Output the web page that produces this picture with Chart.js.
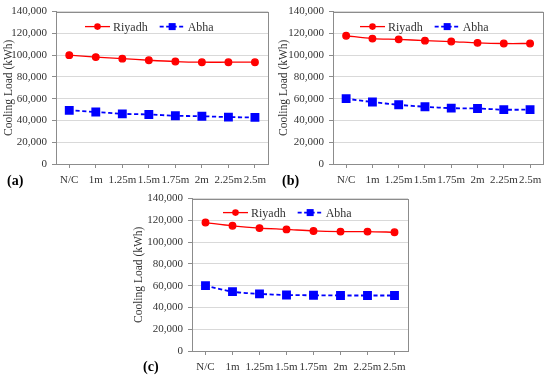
<!DOCTYPE html>
<html>
<head>
<meta charset="utf-8">
<script src="https://cdn.jsdelivr.net/npm/chart.js@4"></script>
<style>
  body { margin: 0; background: #fff; }
  #wrap { position: relative; width: 550px; height: 377px; }
  .panel { position: absolute; }
  .tag { position: absolute; font-family: "Liberation Serif", serif; font-weight: bold; font-size: 14px; color: #000; }
</style>
</head>
<body>
<div id="wrap">
  <div class="panel" style="left:0;top:0;width:275px;height:188px"><canvas id="chartA"></canvas></div>
  <div class="panel" style="left:275px;top:0;width:275px;height:188px"><canvas id="chartB"></canvas></div>
  <div class="panel" style="left:130px;top:187px;width:290px;height:190px"><canvas id="chartC"></canvas></div>
  <div class="tag" style="left:7px;top:173px">(a)</div>
  <div class="tag" style="left:282px;top:173px">(b)</div>
  <div class="tag" style="left:143px;top:359px">(c)</div>
</div>
<script>
// ===== data =====
const categories = ["N/C", "1m", "1.25m", "1.5m", "1.75m", "2m", "2.25m", "2.5m"];
const seriesNames = ["Riyadh", "Abha"];

const riyadhA = [100000, 98200, 96800, 95300, 94100, 93500, 93500, 93500];
const abhaA   = [49300, 47800, 46100, 45500, 44300, 43900, 43100, 42800];

const riyadhB = [117800, 115200, 114500, 113300, 112500, 111300, 110700, 110700];
const abhaB   = [60000, 56900, 54400, 52600, 51300, 51000, 49900, 49900];

const riyadhC = [118000, 115000, 112900, 111700, 110300, 109700, 109700, 109100];
const abhaC   = [60000, 54500, 52500, 51400, 51200, 51000, 51000, 51000];

const yMax = 140000;
const yStep = 20000;

const FONT = "Liberation Serif";
const TEXT = "#333";

// border around plot area
const borderPlugin = {
  id: "plotBorder",
  afterDraw(chart) {
    const a = chart.chartArea, ctx = chart.ctx;
    ctx.save();
    ctx.strokeStyle = "#8c8c8c";
    ctx.lineWidth = 1;
    ctx.strokeRect(Math.round(a.left) + 0.5, Math.round(a.top) + 0.5,
                   Math.round(a.right - a.left), Math.round(a.bottom - a.top));
    ctx.restore();
  }
};

// legend inside plot: line + marker + label
const innerLegend = {
  id: "innerLegend",
  afterDraw(chart, args, opts) {
    const a = chart.chartArea, ctx = chart.ctx;
    let x = a.left + opts.dx;
    const y = a.top + opts.dy;
    ctx.save();
    ctx.font = "12px " + FONT;
    ctx.textBaseline = "middle";
    chart.data.datasets.forEach(ds => {
      ctx.strokeStyle = ds.borderColor;
      ctx.lineWidth = ds.borderWidth;
      ctx.setLineDash(ds.borderDash || []);
      ctx.beginPath();
      ctx.moveTo(x, y);
      ctx.lineTo(x + 25, y);
      ctx.stroke();
      ctx.setLineDash([]);
      ctx.fillStyle = ds.pointBackgroundColor;
      if (ds.pointStyle === "rect") {
        ctx.fillRect(x + 12.5 - 3.5, y - 3.5, 7, 7);
      } else {
        ctx.beginPath();
        ctx.arc(x + 12.5, y, 3.3, 0, Math.PI * 2);
        ctx.fill();
      }
      ctx.fillStyle = TEXT;
      ctx.fillText(ds.label, x + 28, y + 1);
      x += 28 + ctx.measureText(ds.label).width + 12;
    });
    ctx.restore();
  }
};

function makeChart(id, riyadh, abha, box) {
  const ctx = document.getElementById(id).getContext("2d");
  return new Chart(ctx, {
    type: "line",
    data: {
      labels: categories,
      datasets: [
        {
          label: seriesNames[0],
          data: riyadh,
          borderColor: "#ff0000",
          backgroundColor: "#ff0000",
          pointBackgroundColor: "#ff0000",
          pointBorderColor: "#ff0000",
          pointStyle: "circle",
          pointRadius: 3.3,
          borderWidth: 1.3,
          tension: 0.3
        },
        {
          label: seriesNames[1],
          data: abha,
          borderColor: "#0000ff",
          backgroundColor: "#0000ff",
          pointBackgroundColor: "#0000ff",
          pointBorderColor: "#0000ff",
          pointStyle: "rect",
          pointRadius: 5,
          borderWidth: 1.8,
          borderDash: [4, 2.5],
          tension: 0.3
        }
      ]
    },
    options: {
      responsive: true,
      maintainAspectRatio: false,
      animation: false,
      layout: { padding: { left: 0, top: box.top, right: box.right, bottom: 0 } },
      plugins: {
        legend: { display: false },
        tooltip: { enabled: false },
        innerLegend: { dx: box.legendX, dy: box.legendY }
      },
      scales: {
        x: {
          offset: true,
          grid: { display: true, drawOnChartArea: false, drawTicks: true, tickLength: 4, tickColor: "#8c8c8c", offset: false },
          border: { display: true, color: "#8c8c8c" },
          ticks: { color: TEXT, font: { family: FONT, size: 11 }, padding: 6, autoSkip: false, maxRotation: 0 },
          afterFit(s) { s.height = box.xh; }
        },
        y: {
          min: 0,
          max: yMax,
          grid: { color: "#d9d9d9", tickLength: 4, tickColor: "#8c8c8c" },
          border: { display: true, color: "#8c8c8c" },
          ticks: {
            stepSize: yStep,
            color: TEXT,
            font: { family: FONT, size: 11 },
            padding: 5,
            callback: v => v.toLocaleString("en-US")
          },
          title: {
            display: true,
            text: "Cooling Load (kWh)",
            color: TEXT,
            font: { family: FONT, size: 11.5 },
            padding: { top: 2, bottom: 2 }
          },
          afterFit(s) { s.width = box.yw; }
        }
      }
    },
    plugins: [borderPlugin, innerLegend]
  });
}

makeChart("chartA", riyadhA, abhaA, { top: 7, right: 4, xh: 24, yw: 56, legendX: 29, legendY: 15 });
makeChart("chartB", riyadhB, abhaB, { top: 7, right: 3, xh: 24, yw: 58, legendX: 27, legendY: 15 });
makeChart("chartC", riyadhC, abhaC, { top: 7, right: 12, xh: 26, yw: 62, legendX: 31, legendY: 14 });
</script>
</body>
</html>
